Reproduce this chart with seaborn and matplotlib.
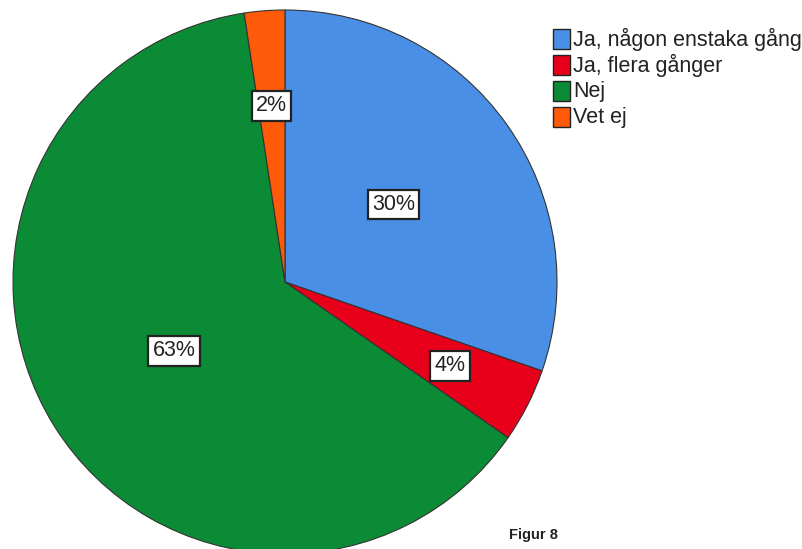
import numpy as np
import matplotlib
matplotlib.use("Agg")
import matplotlib.pyplot as plt
import seaborn as sns

categories = ["Ja, någon enstaka gång", "Ja, flera gånger", "Nej", "Vet ej"]
shares = [30.3, 4.4, 62.9, 2.4]
colors = ["#4A8FE6", "#E8001B", "#0B8B35", "#FF5A0A"]
label_radius = [0.49, 0.68, 0.48, 0.65]

sns.set_theme(style="white")
plt.rcParams["font.family"] = ["Liberation Sans", "DejaVu Sans"]

fig = plt.figure(figsize=(8.03, 5.49), dpi=100)
cx, cy, r = 285, 282, 272
W, H = 803, 549
ax = fig.add_axes([(cx - r) / W, (H - cy - r) / H, 2 * r / W, 2 * r / H])

wedges, texts, autotexts = ax.pie(
    shares, colors=colors, startangle=90, counterclock=False, radius=1,
    autopct="%.0f%%",
    wedgeprops=dict(edgecolor="#333333", linewidth=0.8),
    textprops=dict(fontsize=15.5, color="#222222"),
)
for w, t, rad in zip(wedges, autotexts, label_radius):
    mid = np.deg2rad((w.theta1 + w.theta2) / 2)
    t.set_position((rad * np.cos(mid), rad * np.sin(mid)))
    t.set_bbox(dict(boxstyle="square,pad=0.2", facecolor="white",
                    edgecolor="#222222", linewidth=1.6))
ax.set_xlim(-1, 1)
ax.set_ylim(-1, 1)
ax.set_aspect("equal")
ax.axis("off")

# legend drawn as patches and labels along the right edge
leg_y = [39, 65, 91, 117]
for name, col, y in zip(categories, colors, leg_y):
    fig.patches.append(plt.Rectangle((553 / W, 1 - (y + 10) / H), 17 / W, 20 / H,
                                     transform=fig.transFigure, facecolor=col,
                                     edgecolor="#222222", linewidth=1.0))
    fig.text(573 / W, 1 - y / H, name, fontsize=15.5, color="#222222",
             va="center", ha="left")

fig.text(533 / W, 1 - 535 / H, "Figur 8", fontsize=10.5, fontweight="bold",
         color="#222222", ha="center", va="center")

fig.savefig("out.png", dpi=100)
